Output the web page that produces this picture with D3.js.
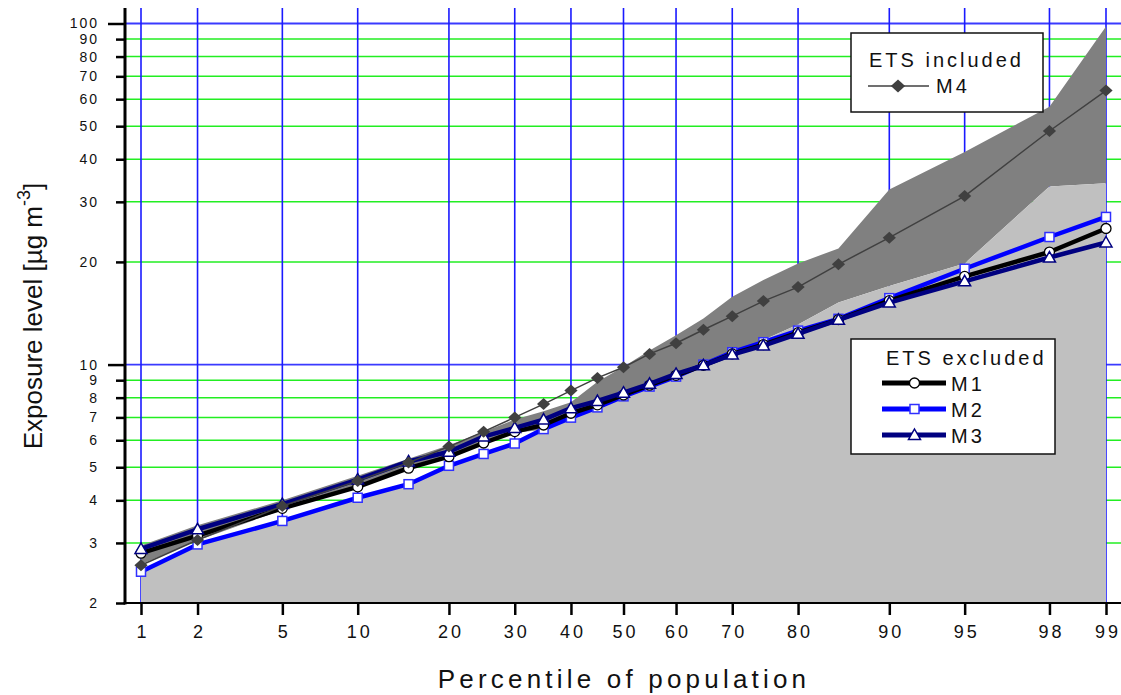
<!DOCTYPE html>
<html>
<head>
<meta charset="utf-8">
<script src="https://cdn.jsdelivr.net/npm/d3@7"></script>
<style>
  html, body { margin: 0; padding: 0; background: #fff; }
  svg { display: block; font-family: "Liberation Sans", Arial, Helvetica, sans-serif; }
</style>
</head>
<body>
<svg id="chart" width="1121" height="695"></svg>
<script>
// ---------------- data ----------------
const percentiles = [1,2,5,10,15,20,25,30,35,40,45,50,55,60,65,70,75,80,85,90,95,98,99];
const xTickValues = [1,2,5,10,20,30,40,50,60,70,80,90,95,98,99];
const yTickValues = [2,3,4,5,6,7,8,9,10,20,30,40,50,60,70,80,90,100];
const yMajorTicks = [10,100];

const m1 = [2.80,3.15,3.79,4.38,4.97,5.37,5.89,6.36,6.65,7.2,7.62,8.15,8.7,9.3,9.95,10.75,11.45,12.4,13.55,15.4,18.14,21.38,25.06];
const m2 = [2.47,2.97,3.48,4.07,4.46,5.05,5.47,5.87,6.47,6.99,7.49,8.07,8.62,9.22,10.0,10.87,11.63,12.58,13.62,15.66,19.1,23.66,27.1];
const m3 = [2.88,3.29,3.9,4.6,5.2,5.55,6.15,6.52,6.9,7.45,7.82,8.27,8.78,9.39,9.95,10.7,11.37,12.31,13.53,15.2,17.54,20.6,22.8];
const m4 = [2.58,3.06,3.85,4.56,5.16,5.75,6.36,7.0,7.66,8.39,9.14,9.82,10.75,11.55,12.65,13.87,15.35,16.87,19.68,23.56,31.2,48.4,63.6];

// shaded ranges
const excludedTop = [2.45,2.95,3.45,4.05,4.45,5.0,5.4,5.85,6.45,6.95,7.45,8.05,8.6,9.2,9.9,10.8,11.8,13.1,15.2,17.0,19.8,33.3,34.0];
const includedLow = [2.6,3.05,3.75,4.4,4.95,5.35,5.85,6.3,6.45,6.95,7.45,8.05,8.6,9.2,9.9,10.8,11.8,13.1,15.2,17.0,19.8,33.3,34.0];
const includedTop = [2.95,3.38,4.0,4.72,5.3,5.8,6.35,6.9,7.3,7.75,8.9,9.85,11.0,12.2,13.65,15.8,17.7,19.8,21.9,32.6,42.0,57.0,98.0];

const xTitle = "Percentile of population";
const yTitle = "Exposure level [µg m";
const legendIncludedTitle = "ETS included";
const legendExcludedTitle = "ETS excluded";

// ---------------- helpers ----------------
// inverse standard normal CDF (Acklam)
function probit(p) {
  const a = [-3.969683028665376e+01, 2.209460984245205e+02, -2.759285104469687e+02, 1.383577518672690e+02, -3.066479806614716e+01, 2.506628277459239e+00];
  const b = [-5.447609879822406e+01, 1.615858368580409e+02, -1.556989798598866e+02, 6.680131188771972e+01, -1.328068155288572e+01];
  const c = [-7.784894002430293e-03, -3.223964580411365e-01, -2.400758277161838e+00, -2.549732539343734e+00, 4.374664141464968e+00, 2.938163982698783e+00];
  const d = [7.784695709041462e-03, 3.224671290700398e-01, 2.445134137142996e+00, 3.754408661907416e+00];
  const pl = 0.02425, ph = 1 - pl;
  let q, r;
  if (p < pl) {
    q = Math.sqrt(-2 * Math.log(p));
    return (((((c[0]*q+c[1])*q+c[2])*q+c[3])*q+c[4])*q+c[5]) / ((((d[0]*q+d[1])*q+d[2])*q+d[3])*q+1);
  } else if (p <= ph) {
    q = p - 0.5; r = q*q;
    return (((((a[0]*r+a[1])*r+a[2])*r+a[3])*r+a[4])*r+a[5])*q / (((((b[0]*r+b[1])*r+b[2])*r+b[3])*r+b[4])*r+1);
  } else {
    q = Math.sqrt(-2 * Math.log(1 - p));
    return -(((((c[0]*q+c[1])*q+c[2])*q+c[3])*q+c[4])*q+c[5]) / ((((d[0]*q+d[1])*q+d[2])*q+d[3])*q+1);
  }
}

const svg = d3.select("#chart");
const chartW = 1121;
const plotLeft = 125, plotBottom = 603, plotTop = 8;

const zx = d3.scaleLinear().domain([probit(0.01), probit(0.99)]).range([141, 1106]);
const x = p => zx(probit(p / 100));
const y = d3.scaleLog().domain([2, 100]).range([603, 23.5]);

svg.append("defs").append("clipPath").attr("id", "plotclip")
  .append("rect").attr("x", plotLeft).attr("y", plotTop).attr("width", chartW - plotLeft).attr("height", plotBottom - plotTop);

const plot = svg.append("g").attr("clip-path", "url(#plotclip)");

// ---------------- grid ----------------
plot.append("g").selectAll("line")
  .data(yTickValues.filter(v => v !== 2 && !yMajorTicks.includes(v)))
  .join("line")
  .attr("x1", plotLeft).attr("x2", chartW)
  .attr("y1", d => y(d)).attr("y2", d => y(d))
  .attr("stroke", "#22ee22").attr("stroke-width", 1.5);

plot.append("g").selectAll("line")
  .data(yMajorTicks)
  .join("line")
  .attr("x1", plotLeft).attr("x2", chartW)
  .attr("y1", d => y(d)).attr("y2", d => y(d))
  .attr("stroke", "#3a3aff").attr("stroke-width", 1.8);

plot.append("g").selectAll("line")
  .data(xTickValues)
  .join("line")
  .attr("x1", d => x(d)).attr("x2", d => x(d))
  .attr("y1", plotTop).attr("y2", plotBottom)
  .attr("stroke", "#1a1aff").attr("stroke-width", 1.6);

// ---------------- shaded ranges ----------------
const idx = d3.range(percentiles.length);
plot.append("path")
  .datum(idx)
  .attr("fill", "#808080")
  .attr("d", d3.area().x(i => x(percentiles[i])).y0(i => y(includedLow[i])).y1(i => y(includedTop[i])));

plot.append("path")
  .datum(idx)
  .attr("fill", "#c0c0c0")
  .attr("d", d3.area().x(i => x(percentiles[i])).y0(() => y(2)).y1(i => y(excludedTop[i])));

// ---------------- series ----------------
const line = vals => d3.line().x((d, i) => x(percentiles[i])).y(d => y(d))(vals);

function marker(g, type, cx, cy, opts) {
  if (type === "circle") {
    g.append("circle").attr("cx", cx).attr("cy", cy).attr("r", 5)
      .attr("fill", "#fff").attr("stroke", opts.stroke).attr("stroke-width", 1.3);
  } else if (type === "square") {
    g.append("rect").attr("x", cx - 4.5).attr("y", cy - 4.5).attr("width", 9).attr("height", 9)
      .attr("fill", "#fff").attr("stroke", opts.stroke).attr("stroke-width", 1.5);
  } else if (type === "triangle") {
    g.append("path").attr("d", `M${cx},${cy-6}L${cx+6},${cy+4.5}L${cx-6},${cy+4.5}Z`)
      .attr("fill", "#fff").attr("stroke", opts.stroke).attr("stroke-width", 1.5);
  } else if (type === "diamond") {
    const s = opts.size || 6;
    g.append("path").attr("d", `M${cx},${cy-s}L${cx+s*1.1},${cy}L${cx},${cy+s}L${cx-s*1.1},${cy}Z`)
      .attr("fill", opts.fill);
  }
}

const series = [
  { name: "M2", vals: m2, color: "#0000ff", width: 4.5, type: "square", mstroke: "#3030ff" },
  { name: "M1", vals: m1, color: "#000000", width: 4.5, type: "circle", mstroke: "#000000" },
  { name: "M3", vals: m3, color: "#000080", width: 4.5, type: "triangle", mstroke: "#000080" },
  { name: "M4", vals: m4, color: "#404040", width: 1.5, type: "diamond", mstroke: "#404040" }
];

series.forEach(s => {
  const g = plot.append("g");
  g.append("path").attr("d", line(s.vals)).attr("fill", "none")
    .attr("stroke", s.color).attr("stroke-width", s.width).attr("stroke-linejoin", "round");
  s.vals.forEach((v, i) => marker(g, s.type, x(percentiles[i]), y(v), { stroke: s.mstroke, fill: "#404040", size: 6 }));
});

// ---------------- axes ----------------
const yAxis = d3.axisLeft(y).tickValues(yTickValues).tickFormat(d3.format("d")).tickSize(0).tickPadding(0);
const gy = svg.append("g").attr("transform", `translate(${plotLeft},0)`).call(yAxis);
gy.select(".domain").remove();
gy.selectAll(".tick text").attr("x", -26).attr("font-size", 14).attr("letter-spacing", "2px")
  .attr("fill", "#111").attr("font-family", "Liberation Sans, Arial, sans-serif");
gy.selectAll(".tick line")
  .attr("x2", d => yMajorTicks.includes(d) ? -17 : -9)
  .attr("stroke", "#000").attr("stroke-width", 2.5);
svg.append("line").attr("x1", plotLeft).attr("x2", plotLeft).attr("y1", plotTop).attr("y2", plotBottom + 1.5)
  .attr("stroke", "#000").attr("stroke-width", 3);

const xAxis = d3.axisBottom(zx).tickValues(xTickValues.map(p => probit(p / 100)))
  .tickFormat((d, i) => xTickValues[i]).tickSize(12).tickPadding(10);
const gx = svg.append("g").attr("transform", `translate(0,${plotBottom})`).call(xAxis);
gx.select(".domain").remove();
gx.selectAll(".tick line").attr("stroke", "#000").attr("stroke-width", 2.5);
gx.selectAll(".tick text").attr("font-size", 18).attr("letter-spacing", "3px").attr("dx", "1.5px")
  .attr("fill", "#111").attr("font-family", "Liberation Sans, Arial, sans-serif");
svg.append("line").attr("x1", plotLeft - 1.5).attr("x2", chartW).attr("y1", plotBottom).attr("y2", plotBottom)
  .attr("stroke", "#000").attr("stroke-width", 2);

// axis titles
svg.append("text").attr("x", 624).attr("y", 688).attr("text-anchor", "middle")
  .attr("font-size", 26).attr("letter-spacing", "4.2px").attr("fill", "#111").text(xTitle);

const yt = svg.append("text").attr("transform", "translate(42,316) rotate(-90)")
  .attr("text-anchor", "middle").attr("font-size", 26).attr("fill", "#111");
yt.append("tspan").text(yTitle);
yt.append("tspan").attr("dy", -12).attr("font-size", 18).text("-3");
yt.append("tspan").attr("dy", 12).text("]");

// ---------------- legends ----------------
const l1 = svg.append("g");
l1.append("rect").attr("x", 851).attr("y", 33).attr("width", 192).attr("height", 79)
  .attr("fill", "#fff").attr("stroke", "#111").attr("stroke-width", 1.5);
l1.append("text").attr("x", 869).attr("y", 67).attr("font-size", 20).attr("letter-spacing", "3px")
  .attr("fill", "#111").text(legendIncludedTitle);
l1.append("line").attr("x1", 868).attr("x2", 929).attr("y1", 86).attr("y2", 86)
  .attr("stroke", "#404040").attr("stroke-width", 1.5);
marker(l1, "diamond", 898, 86, { fill: "#404040", size: 6.5 });
l1.append("text").attr("x", 936).attr("y", 93).attr("font-size", 20).attr("letter-spacing", "3px")
  .attr("fill", "#111").text("M4");

const l2 = svg.append("g");
l2.append("rect").attr("x", 851).attr("y", 339).attr("width", 204).attr("height", 115)
  .attr("fill", "#fff").attr("stroke", "#111").attr("stroke-width", 1.5);
l2.append("text").attr("x", 886).attr("y", 365).attr("font-size", 20).attr("letter-spacing", "3px")
  .attr("fill", "#111").text(legendExcludedTitle);
const legendRows = [
  { s: series[1], yy: 383 },
  { s: series[0], yy: 409 },
  { s: series[2], yy: 435 }
];
legendRows.forEach(r => {
  l2.append("line").attr("x1", 882).attr("x2", 946).attr("y1", r.yy).attr("y2", r.yy)
    .attr("stroke", r.s.color).attr("stroke-width", 5);
  marker(l2, r.s.type, 914.5, r.yy, { stroke: r.s.mstroke });
  l2.append("text").attr("x", 951).attr("y", r.yy + 7.5).attr("font-size", 20).attr("letter-spacing", "3px")
    .attr("fill", "#111").text(r.s.name);
});
</script>
</body>
</html>
